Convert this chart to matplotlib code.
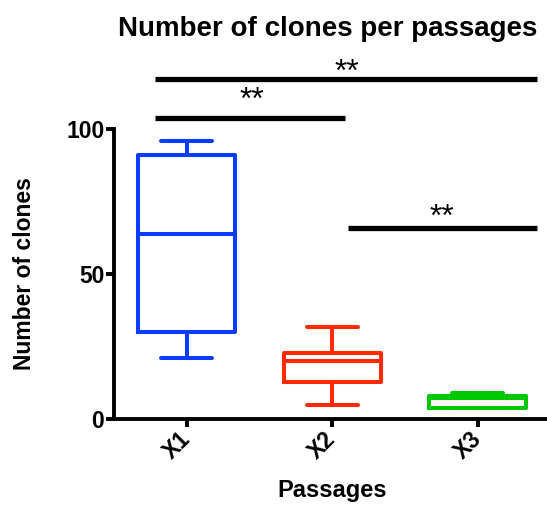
import matplotlib
matplotlib.use("Agg")
import matplotlib.pyplot as plt

plt.rcParams['font.family'] = ['Liberation Sans', 'DejaVu Sans']

# Summary statistics per passage (min-max whiskers)
passages = ["X1", "X2", "X3"]
whisker_low = [21, 5, 4]
q1 = [30, 13, 4]
median = [64, 20, 7.5]
q3 = [91, 23, 8]
whisker_high = [96, 32, 9]
colors = ["#0A3CFF", "#FF2A00", "#00C800"]

# Significance brackets: (start index, end index, height)
sig_pairs = [(0, 2), (0, 1), (1, 2)]
sig_heights = [117.5, 103.8, 66.0]
sig_labels = ["**", "**", "**"]

fig = plt.figure(figsize=(5.47, 5.05), dpi=100)
ax = fig.add_axes([114 / 547, 85.7 / 505, (547 - 114) / 547, 290 / 505])

stats = []
for i, p in enumerate(passages):
    stats.append(dict(label=p, whislo=whisker_low[i], q1=q1[i], med=median[i],
                      q3=q3[i], whishi=whisker_high[i], fliers=[]))

lw = 2.9
for i, s in enumerate(stats):
    c = colors[i]
    ax.bxp([s], positions=[i], widths=0.67, capwidths=0.35, showfliers=False,
           boxprops=dict(color=c, linewidth=lw),
           medianprops=dict(color=c, linewidth=lw),
           whiskerprops=dict(color=c, linewidth=lw),
           capprops=dict(color=c, linewidth=lw, solid_capstyle='round'))

ax.set_xlim(-0.5, 2.476)
ax.set_ylim(0, 100)
ax.set_yticks([0, 50, 100])
ax.set_xticks(range(len(passages)))
ax.set_xticklabels(passages, rotation=45, ha='right', va='center',
                   rotation_mode='anchor', fontweight='bold', fontsize=16.5)
for lab in ax.get_yticklabels():
    lab.set_fontweight('bold')
    lab.set_fontsize(16.5)

for side in ['top', 'right']:
    ax.spines[side].set_visible(False)
for side in ['left', 'bottom']:
    ax.spines[side].set_linewidth(2.8)
ax.tick_params(axis='both', width=2.8, length=6, pad=1)
ax.tick_params(axis='x', pad=6)

# Significance bars with their star labels
star_x = [1.10, 0.45, 1.755]
star_y = [114.2, 104.6, 64.2]
for (a, b), h, t, sx, sy in zip(sig_pairs, sig_heights, sig_labels, star_x, star_y):
    x0 = a - 0.22 if a == 0 else a + 0.11
    x1 = b + 0.09 if b == 1 else b + 0.41
    ax.plot([x0, x1], [h, h], color='black', linewidth=3.8, clip_on=False,
            solid_capstyle='butt')
    ax.text(sx, sy, t, ha='center', va='bottom', fontsize=23, clip_on=False)

fig.text(328 / 547, 1 - 29 / 505, "Number of clones per passages",
         ha='center', va='center', fontsize=20, fontweight='bold')
fig.text(25 / 547, 1 - 274 / 505, "Number of clones", rotation=90,
         ha='center', va='center', fontsize=16.5, fontweight='bold')
fig.text(332 / 547, 1 - 490 / 505, "Passages",
         ha='center', va='center', fontsize=17, fontweight='bold')

fig.savefig("out.png", dpi=100)
